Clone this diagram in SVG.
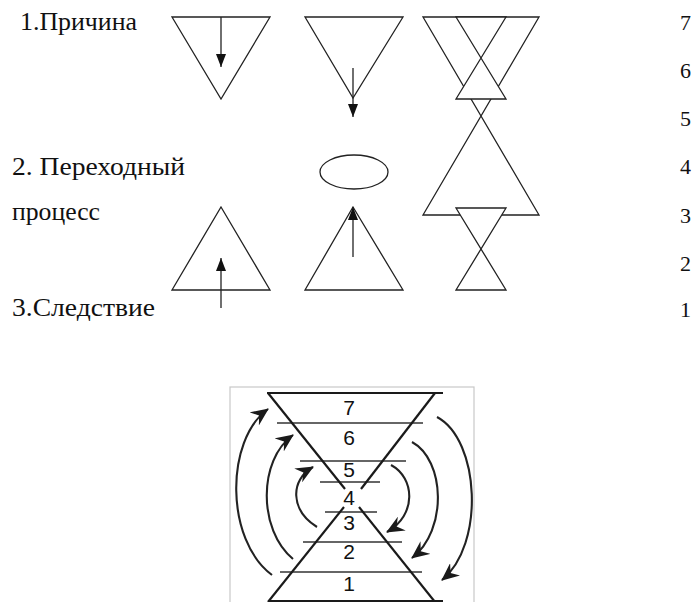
<svg xmlns="http://www.w3.org/2000/svg" width="694" height="602" viewBox="0 0 694 602">
<style>
.lbl{font-size:25px;fill:#111}
.num{font-size:22px;fill:#111}
.lvl{font-family:"Liberation Sans",Arial,sans-serif;font-size:21px;fill:#111;text-anchor:middle}
.sh{fill:none;stroke:#222;stroke-width:1.3}
.shw{fill:#fff;stroke:#222;stroke-width:1.3}
.ar{fill:none;stroke:#222;stroke-width:1.3;marker-end:url(#tri)}
.hg{fill:none;stroke:#1a1a1a;stroke-width:2.2}
.lv{stroke:#333;stroke-width:1.6}
.cv{fill:none;stroke:#222;stroke-width:2.1;marker-end:url(#barb)}
</style>
<defs>
<marker id="tri" viewBox="0 0 13 10" refX="13" refY="5" markerWidth="13" markerHeight="10" markerUnits="userSpaceOnUse" orient="auto">
<path d="M0,0 L13,5 L0,10 Z" fill="#111"/>
</marker>
<marker id="barb" viewBox="0 0 18 16" refX="17" refY="8" markerWidth="18" markerHeight="16" markerUnits="userSpaceOnUse" orient="auto">
<path d="M0,0 L18,8 L0,16 L6,8 Z" fill="#1a1a1a"/>
</marker>
</defs>
<rect width="694" height="602" fill="#fff"/>

<g id="labels" font-family="'Liberation Serif', 'Times New Roman', serif">
<text class="lbl" x="20" y="30" textLength="117" lengthAdjust="spacingAndGlyphs">1.Причина</text>
<text class="lbl" x="12" y="175" textLength="173" lengthAdjust="spacingAndGlyphs">2. Переходный</text>
<text class="lbl" x="12" y="220" textLength="88" lengthAdjust="spacingAndGlyphs">процесс</text>
<text class="lbl" x="12" y="316" textLength="143" lengthAdjust="spacingAndGlyphs">3.Следствие</text>
</g>

<g id="scale" font-family="'Liberation Serif', 'Times New Roman', serif">
<text class="num" x="680" y="30">7</text>
<text class="num" x="680" y="78">6</text>
<text class="num" x="680" y="126">5</text>
<text class="num" x="680" y="174">4</text>
<text class="num" x="680" y="223">3</text>
<text class="num" x="680" y="271">2</text>
<text class="num" x="680" y="317">1</text>
</g>

<g id="cause-1">
<polygon class="sh" points="172,17 270,17 221,99"/>
<line class="ar" x1="221" y1="17" x2="221" y2="67"/>
</g>
<g id="cause-2">
<polygon class="sh" points="305,17 403,17 353,98"/>
<line class="ar" x1="353" y1="68" x2="353" y2="117"/>
</g>
<g id="transition">
<ellipse class="sh" cx="354" cy="172" rx="34" ry="17"/>
</g>
<g id="effect-2">
<polygon class="sh" points="353,207 403,290 305,290"/>
<line class="ar" x1="353" y1="257" x2="353" y2="207"/>
</g>
<g id="effect-1">
<polygon class="sh" points="221,207 270,290 172,290"/>
<line class="ar" x1="221" y1="308" x2="221" y2="258"/>
</g>
<g id="combined">
<path class="sh" d="M423,17 L539,17 L423,215 L539,215 Z"/>
<path class="shw" d="M456,17 L506,17 L456,99 L506,99 Z"/>
<path class="shw" d="M456,208 L506,208 L456,290 L506,290 Z"/>
</g>

<g id="hourglass">
<rect x="230" y="387" width="244" height="225" fill="#fff" stroke="#c8c8c8" stroke-width="1.2"/>
<line class="lv" x1="277" y1="423" x2="423" y2="423"/>
<line class="lv" x1="300" y1="461" x2="406" y2="461"/>
<line class="lv" x1="320" y1="482" x2="380" y2="482"/>
<line class="lv" x1="325" y1="512" x2="377" y2="512"/>
<line class="lv" x1="303" y1="542" x2="402" y2="542"/>
<line class="lv" x1="280" y1="572" x2="422" y2="572"/>
<line class="hg" x1="267" y1="393" x2="443" y2="393"/>
<line class="hg" x1="268" y1="601" x2="443" y2="601"/>
<line class="hg" x1="268" y1="393" x2="345" y2="489"/>
<line class="hg" x1="359" y1="507" x2="435" y2="602"/>
<line class="hg" x1="435" y1="393" x2="361" y2="489"/>
<line class="hg" x1="344" y1="507" x2="268" y2="602"/>
<text class="lvl" x="349" y="415">7</text>
<text class="lvl" x="349" y="445">6</text>
<text class="lvl" x="349" y="477">5</text>
<text class="lvl" x="349" y="505">4</text>
<text class="lvl" x="349" y="530">3</text>
<text class="lvl" x="349" y="559">2</text>
<text class="lvl" x="349" y="591">1</text>
</g>

<g id="connectors">
<path class="cv" d="M272,575 C225,540 225,440 268,409"/>
<path class="cv" d="M293,559 C258,530 258,460 293,435"/>
<path class="cv" d="M317,527 C290,510 290,480 313,467"/>
<path class="cv" d="M437,417 C480,440 485,545 442,580"/>
<path class="cv" d="M412,442 C445,460 448,530 412,558"/>
<path class="cv" d="M391,465 C415,478 417,515 387,532"/>
</g>
</svg>
